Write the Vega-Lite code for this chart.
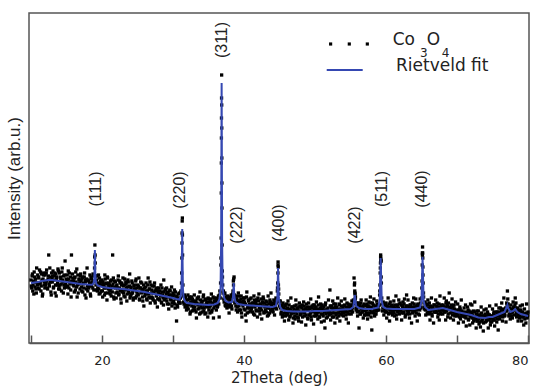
{
"$schema":"https://vega.github.io/schema/vega-lite/v6.json",
"width":500,"height":330,
"autosize":{"type":"none"},
"padding":{"left":29,"top":13,"right":10,"bottom":45},
"background":"white",
"config":{"view":{"stroke":"#555","strokeWidth":1.5}},
"datasets":{
"obs":[
{"t":10.0,"i":63},{"t":10.1,"i":55},{"t":10.2,"i":69},{"t":10.3,"i":58},{"t":10.4,"i":49},{"t":10.5,"i":66},{"t":10.6,"i":61},{"t":10.7,"i":54},{"t":10.8,"i":75},{"t":10.9,"i":58},
{"t":11.0,"i":55},{"t":11.1,"i":65},{"t":11.2,"i":73},{"t":11.3,"i":60},{"t":11.4,"i":52},{"t":11.5,"i":69},{"t":11.6,"i":47},{"t":11.7,"i":64},{"t":11.8,"i":70},{"t":11.9,"i":58},
{"t":12.0,"i":68},{"t":12.1,"i":60},{"t":12.2,"i":73},{"t":12.3,"i":55},{"t":12.4,"i":64},{"t":12.5,"i":88},{"t":12.6,"i":57},{"t":12.7,"i":66},{"t":12.8,"i":51},{"t":12.9,"i":70},
{"t":13.0,"i":61},{"t":13.1,"i":72},{"t":13.2,"i":56},{"t":13.3,"i":67},{"t":13.4,"i":50},{"t":13.5,"i":69},{"t":13.6,"i":64},{"t":13.7,"i":58},{"t":13.8,"i":74},{"t":13.9,"i":54},
{"t":14.0,"i":70},{"t":14.1,"i":58},{"t":14.2,"i":64},{"t":14.3,"i":52},{"t":14.4,"i":75},{"t":14.5,"i":61},{"t":14.6,"i":67},{"t":14.7,"i":55},{"t":14.8,"i":82},{"t":14.9,"i":59},
{"t":15.0,"i":56},{"t":15.1,"i":68},{"t":15.2,"i":49},{"t":15.3,"i":64},{"t":15.4,"i":70},{"t":15.5,"i":59},{"t":15.6,"i":53},{"t":15.7,"i":88},{"t":15.8,"i":60},{"t":15.9,"i":65},
{"t":16.0,"i":62},{"t":16.1,"i":51},{"t":16.2,"i":66},{"t":16.3,"i":71},{"t":16.4,"i":56},{"t":16.5,"i":46},{"t":16.6,"i":68},{"t":16.7,"i":59},{"t":16.8,"i":63},{"t":16.9,"i":54},
{"t":17.0,"i":69},{"t":17.1,"i":56},{"t":17.2,"i":64},{"t":17.3,"i":51},{"t":17.4,"i":60},{"t":17.5,"i":66},{"t":17.6,"i":48},{"t":17.7,"i":63},{"t":17.8,"i":54},{"t":17.9,"i":75},
{"t":18.0,"i":52},{"t":18.1,"i":62},{"t":18.2,"i":57},{"t":18.3,"i":68},{"t":18.4,"i":47},{"t":18.5,"i":64},{"t":18.6,"i":60},{"t":18.7,"i":55},{"t":18.8,"i":67},{"t":18.9,"i":62},
{"t":19.0,"i":98},{"t":19.1,"i":67},{"t":19.2,"i":53},{"t":19.3,"i":67},{"t":19.4,"i":55},{"t":19.5,"i":68},{"t":19.6,"i":49},{"t":19.7,"i":59},{"t":19.8,"i":62},{"t":19.9,"i":52},{"t":18.95,"i":75},{"t":19.05,"i":80},
{"t":20.0,"i":63},{"t":20.1,"i":46},{"t":20.2,"i":59},{"t":20.3,"i":55},{"t":20.4,"i":68},{"t":20.5,"i":50},{"t":20.6,"i":60},{"t":20.7,"i":43},{"t":20.8,"i":65},{"t":20.9,"i":54},
{"t":21.0,"i":60},{"t":21.1,"i":52},{"t":21.2,"i":62},{"t":21.3,"i":47},{"t":21.4,"i":57},{"t":21.5,"i":88},{"t":21.6,"i":65},{"t":21.7,"i":44},{"t":21.8,"i":56},{"t":21.9,"i":61},
{"t":22.0,"i":45},{"t":22.1,"i":58},{"t":22.2,"i":55},{"t":22.3,"i":67},{"t":22.4,"i":49},{"t":22.5,"i":62},{"t":22.6,"i":52},{"t":22.7,"i":40},{"t":22.8,"i":60},{"t":22.9,"i":51},
{"t":23.0,"i":57},{"t":23.1,"i":47},{"t":23.2,"i":64},{"t":23.3,"i":53},{"t":23.4,"i":59},{"t":23.5,"i":42},{"t":23.6,"i":56},{"t":23.7,"i":61},{"t":23.8,"i":50},{"t":23.9,"i":69},
{"t":24.0,"i":47},{"t":24.1,"i":55},{"t":24.2,"i":62},{"t":24.3,"i":50},{"t":24.4,"i":43},{"t":24.5,"i":57},{"t":24.6,"i":54},{"t":24.7,"i":45},{"t":24.8,"i":64},{"t":24.9,"i":51},
{"t":25.0,"i":58},{"t":25.1,"i":48},{"t":25.2,"i":65},{"t":25.3,"i":43},{"t":25.4,"i":55},{"t":25.5,"i":51},{"t":25.6,"i":60},{"t":25.7,"i":46},{"t":25.8,"i":54},{"t":25.9,"i":37},
{"t":26.0,"i":55},{"t":26.1,"i":49},{"t":26.2,"i":60},{"t":26.3,"i":44},{"t":26.4,"i":52},{"t":26.5,"i":65},{"t":26.6,"i":46},{"t":26.7,"i":54},{"t":26.8,"i":40},{"t":26.9,"i":58},
{"t":27.0,"i":46},{"t":27.1,"i":57},{"t":27.2,"i":43},{"t":27.3,"i":51},{"t":27.4,"i":60},{"t":27.5,"i":40},{"t":27.6,"i":54},{"t":27.7,"i":48},{"t":27.8,"i":36},{"t":27.9,"i":52},
{"t":28.0,"i":55},{"t":28.1,"i":43},{"t":28.2,"i":49},{"t":28.3,"i":58},{"t":28.4,"i":40},{"t":28.5,"i":51},{"t":28.6,"i":45},{"t":28.7,"i":63},{"t":28.8,"i":43},{"t":28.9,"i":53},
{"t":29.0,"i":45},{"t":29.1,"i":55},{"t":29.2,"i":39},{"t":29.3,"i":50},{"t":29.4,"i":34},{"t":29.5,"i":48},{"t":29.6,"i":52},{"t":29.7,"i":43},{"t":29.8,"i":56},{"t":29.9,"i":40},
{"t":30.0,"i":50},{"t":30.1,"i":41},{"t":30.2,"i":53},{"t":30.3,"i":35},{"t":30.4,"i":46},{"t":30.5,"i":22},{"t":30.6,"i":38},{"t":30.7,"i":45},{"t":30.8,"i":41},{"t":30.9,"i":50},
{"t":31.0,"i":40},{"t":31.1,"i":52},{"t":31.2,"i":60},{"t":31.3,"i":122},{"t":31.4,"i":58},{"t":31.5,"i":41},{"t":31.6,"i":48},{"t":31.7,"i":36},{"t":31.8,"i":46},{"t":31.9,"i":33},
{"t":31.22,"i":70},{"t":31.25,"i":85},{"t":31.28,"i":110},{"t":31.32,"i":125},{"t":31.35,"i":88},
{"t":32.0,"i":35},{"t":32.1,"i":48},{"t":32.2,"i":38},{"t":32.3,"i":44},{"t":32.4,"i":29},{"t":32.5,"i":41},{"t":32.6,"i":46},{"t":32.7,"i":32},{"t":32.8,"i":42},{"t":32.9,"i":36},
{"t":33.0,"i":48},{"t":33.1,"i":33},{"t":33.2,"i":41},{"t":33.3,"i":25},{"t":33.4,"i":44},{"t":33.5,"i":38},{"t":33.6,"i":46},{"t":33.7,"i":35},{"t":33.8,"i":51},{"t":33.9,"i":30},
{"t":34.0,"i":39},{"t":34.1,"i":31},{"t":34.2,"i":42},{"t":34.3,"i":48},{"t":34.4,"i":35},{"t":34.5,"i":29},{"t":34.6,"i":44},{"t":34.7,"i":37},{"t":34.8,"i":41},{"t":34.9,"i":26},
{"t":35.0,"i":44},{"t":35.1,"i":36},{"t":35.2,"i":30},{"t":35.3,"i":41},{"t":35.4,"i":49},{"t":35.5,"i":33},{"t":35.6,"i":40},{"t":35.7,"i":25},{"t":35.8,"i":45},{"t":35.9,"i":37},
{"t":36.0,"i":42},{"t":36.1,"i":33},{"t":36.2,"i":44},{"t":36.3,"i":37},{"t":36.4,"i":47},{"t":36.5,"i":26},{"t":36.6,"i":52},{"t":36.7,"i":60},{"t":36.8,"i":150},{"t":36.9,"i":135},
{"t":36.75,"i":78},{"t":36.78,"i":105},{"t":36.82,"i":205},{"t":36.83,"i":225},{"t":36.84,"i":245},{"t":36.85,"i":268},{"t":36.86,"i":238},{"t":36.87,"i":215},{"t":36.88,"i":185},{"t":36.92,"i":98},{"t":36.95,"i":72},
{"t":37.0,"i":58},{"t":37.1,"i":52},{"t":37.2,"i":41},{"t":37.3,"i":50},{"t":37.4,"i":37},{"t":37.5,"i":46},{"t":37.6,"i":35},{"t":37.7,"i":47},{"t":37.8,"i":38},{"t":37.9,"i":30},
{"t":38.0,"i":44},{"t":38.1,"i":36},{"t":38.2,"i":48},{"t":38.3,"i":34},{"t":38.4,"i":49},{"t":38.5,"i":62},{"t":38.6,"i":66},{"t":38.7,"i":40},{"t":38.8,"i":47},{"t":38.9,"i":33},{"t":38.55,"i":64},
{"t":39.0,"i":44},{"t":39.1,"i":31},{"t":39.2,"i":50},{"t":39.3,"i":37},{"t":39.4,"i":42},{"t":39.5,"i":33},{"t":39.6,"i":47},{"t":39.7,"i":26},{"t":39.8,"i":39},{"t":39.9,"i":42},
{"t":40.0,"i":34},{"t":40.1,"i":45},{"t":40.2,"i":28},{"t":40.3,"i":22},{"t":40.4,"i":51},{"t":40.5,"i":35},{"t":40.6,"i":43},{"t":40.7,"i":31},{"t":40.8,"i":39},{"t":40.9,"i":38},
{"t":41.0,"i":45},{"t":41.1,"i":36},{"t":41.2,"i":31},{"t":41.3,"i":40},{"t":41.4,"i":47},{"t":41.5,"i":28},{"t":41.6,"i":39},{"t":41.7,"i":33},{"t":41.8,"i":43},{"t":41.9,"i":26},
{"t":42.0,"i":38},{"t":42.1,"i":49},{"t":42.2,"i":32},{"t":42.3,"i":35},{"t":42.4,"i":44},{"t":42.5,"i":24},{"t":42.6,"i":41},{"t":42.7,"i":46},{"t":42.8,"i":30},{"t":42.9,"i":40},
{"t":43.0,"i":33},{"t":43.1,"i":42},{"t":43.2,"i":38},{"t":43.3,"i":27},{"t":43.4,"i":47},{"t":43.5,"i":35},{"t":43.6,"i":30},{"t":43.7,"i":41},{"t":43.8,"i":50},{"t":43.9,"i":32},
{"t":44.0,"i":40},{"t":44.1,"i":31},{"t":44.2,"i":43},{"t":44.3,"i":28},{"t":44.4,"i":38},{"t":44.5,"i":45},{"t":44.6,"i":34},{"t":44.7,"i":52},{"t":44.8,"i":81},{"t":44.9,"i":49},
{"t":44.75,"i":60},{"t":44.78,"i":70},{"t":44.82,"i":76},{"t":44.85,"i":58},{"t":44.95,"i":42},
{"t":45.0,"i":37},{"t":45.1,"i":42},{"t":45.2,"i":29},{"t":45.3,"i":38},{"t":45.4,"i":26},{"t":45.5,"i":40},{"t":45.6,"i":34},{"t":45.7,"i":22},{"t":45.8,"i":37},{"t":45.9,"i":30},
{"t":46.0,"i":39},{"t":46.1,"i":29},{"t":46.2,"i":42},{"t":46.3,"i":23},{"t":46.4,"i":34},{"t":46.5,"i":27},{"t":46.6,"i":45},{"t":46.7,"i":31},{"t":46.8,"i":36},{"t":46.9,"i":20},
{"t":47.0,"i":30},{"t":47.1,"i":37},{"t":47.2,"i":24},{"t":47.3,"i":43},{"t":47.4,"i":33},{"t":47.5,"i":26},{"t":47.6,"i":35},{"t":47.7,"i":22},{"t":47.8,"i":40},{"t":47.9,"i":28},
{"t":48.0,"i":36},{"t":48.1,"i":21},{"t":48.2,"i":38},{"t":48.3,"i":31},{"t":48.4,"i":41},{"t":48.5,"i":27},{"t":48.6,"i":34},{"t":48.7,"i":18},{"t":48.8,"i":39},{"t":48.9,"i":33},
{"t":49.0,"i":24},{"t":49.1,"i":40},{"t":49.2,"i":34},{"t":49.3,"i":28},{"t":49.4,"i":44},{"t":49.5,"i":23},{"t":49.6,"i":37},{"t":49.7,"i":31},{"t":49.8,"i":19},{"t":49.9,"i":38},
{"t":50.0,"i":35},{"t":50.1,"i":27},{"t":50.2,"i":41},{"t":50.3,"i":30},{"t":50.4,"i":24},{"t":50.5,"i":46},{"t":50.6,"i":26},{"t":50.7,"i":33},{"t":50.8,"i":39},{"t":50.9,"i":21},
{"t":51.0,"i":38},{"t":51.1,"i":29},{"t":51.2,"i":33},{"t":51.3,"i":22},{"t":51.4,"i":15},{"t":51.5,"i":40},{"t":51.6,"i":25},{"t":51.7,"i":34},{"t":51.8,"i":31},{"t":51.9,"i":43},
{"t":52.0,"i":28},{"t":52.1,"i":53},{"t":52.2,"i":23},{"t":52.3,"i":37},{"t":52.4,"i":30},{"t":52.5,"i":42},{"t":52.6,"i":26},{"t":52.7,"i":35},{"t":52.8,"i":20},{"t":52.9,"i":39},
{"t":53.0,"i":35},{"t":53.1,"i":25},{"t":53.2,"i":45},{"t":53.3,"i":30},{"t":53.4,"i":39},{"t":53.5,"i":22},{"t":53.6,"i":34},{"t":53.7,"i":42},{"t":53.8,"i":28},{"t":53.9,"i":32},
{"t":54.0,"i":27},{"t":54.1,"i":37},{"t":54.2,"i":44},{"t":54.3,"i":31},{"t":54.4,"i":24},{"t":54.5,"i":40},{"t":54.6,"i":34},{"t":54.7,"i":20},{"t":54.8,"i":38},{"t":54.9,"i":36},
{"t":55.0,"i":38},{"t":55.1,"i":29},{"t":55.2,"i":42},{"t":55.3,"i":31},{"t":55.4,"i":43},{"t":55.5,"i":65},{"t":55.6,"i":52},{"t":55.7,"i":46},{"t":55.8,"i":33},{"t":55.9,"i":40},
{"t":55.55,"i":58},{"t":55.58,"i":60},{"t":55.65,"i":49},
{"t":56.0,"i":27},{"t":56.1,"i":40},{"t":56.2,"i":15},{"t":56.3,"i":38},{"t":56.4,"i":29},{"t":56.5,"i":43},{"t":56.6,"i":31},{"t":56.7,"i":36},{"t":56.8,"i":25},{"t":56.9,"i":39},
{"t":57.0,"i":38},{"t":57.1,"i":28},{"t":57.2,"i":43},{"t":57.3,"i":33},{"t":57.4,"i":24},{"t":57.5,"i":37},{"t":57.6,"i":41},{"t":57.7,"i":30},{"t":57.8,"i":46},{"t":57.9,"i":26},
{"t":58.0,"i":13},{"t":58.1,"i":40},{"t":58.2,"i":31},{"t":58.3,"i":44},{"t":58.4,"i":27},{"t":58.5,"i":36},{"t":58.6,"i":29},{"t":58.7,"i":42},{"t":58.8,"i":33},{"t":58.9,"i":38},
{"t":59.0,"i":33},{"t":59.1,"i":48},{"t":59.2,"i":75},{"t":59.3,"i":82},{"t":59.4,"i":45},{"t":59.5,"i":32},{"t":59.6,"i":41},{"t":59.7,"i":28},{"t":59.8,"i":39},{"t":59.9,"i":31},
{"t":59.15,"i":58},{"t":59.22,"i":80},{"t":59.25,"i":88},{"t":59.28,"i":84},{"t":59.35,"i":60},
{"t":60.0,"i":40},{"t":60.1,"i":25},{"t":60.2,"i":36},{"t":60.3,"i":45},{"t":60.4,"i":30},{"t":60.5,"i":22},{"t":60.6,"i":41},{"t":60.7,"i":33},{"t":60.8,"i":37},{"t":60.9,"i":28},
{"t":61.0,"i":31},{"t":61.1,"i":42},{"t":61.2,"i":27},{"t":61.3,"i":35},{"t":61.4,"i":47},{"t":61.5,"i":24},{"t":61.6,"i":38},{"t":61.7,"i":32},{"t":61.8,"i":43},{"t":61.9,"i":29},
{"t":62.0,"i":40},{"t":62.1,"i":33},{"t":62.2,"i":23},{"t":62.3,"i":37},{"t":62.4,"i":41},{"t":62.5,"i":30},{"t":62.6,"i":44},{"t":62.7,"i":26},{"t":62.8,"i":36},{"t":62.9,"i":48},
{"t":63.0,"i":29},{"t":63.1,"i":43},{"t":63.2,"i":32},{"t":63.3,"i":25},{"t":63.4,"i":38},{"t":63.5,"i":35},{"t":63.6,"i":20},{"t":63.7,"i":40},{"t":63.8,"i":31},{"t":63.9,"i":45},
{"t":64.0,"i":36},{"t":64.1,"i":27},{"t":64.2,"i":44},{"t":64.3,"i":33},{"t":64.4,"i":22},{"t":64.5,"i":39},{"t":64.6,"i":37},{"t":64.7,"i":28},{"t":64.8,"i":44},{"t":64.9,"i":35},
{"t":65.0,"i":45},{"t":65.1,"i":78},{"t":65.2,"i":76},{"t":65.3,"i":46},{"t":65.4,"i":34},{"t":65.5,"i":41},{"t":65.6,"i":28},{"t":65.7,"i":39},{"t":65.8,"i":30},{"t":65.9,"i":43},
{"t":65.08,"i":62},{"t":65.12,"i":90},{"t":65.15,"i":96},{"t":65.18,"i":85},{"t":65.23,"i":60},
{"t":66.0,"i":29},{"t":66.1,"i":40},{"t":66.2,"i":23},{"t":66.3,"i":36},{"t":66.4,"i":45},{"t":66.5,"i":27},{"t":66.6,"i":34},{"t":66.7,"i":20},{"t":66.8,"i":38},{"t":66.9,"i":31},
{"t":67.0,"i":43},{"t":67.1,"i":31},{"t":67.2,"i":40},{"t":67.3,"i":26},{"t":67.4,"i":36},{"t":67.5,"i":23},{"t":67.6,"i":47},{"t":67.7,"i":29},{"t":67.8,"i":38},{"t":67.9,"i":33},
{"t":68.0,"i":29},{"t":68.1,"i":36},{"t":68.2,"i":45},{"t":68.3,"i":31},{"t":68.4,"i":23},{"t":68.5,"i":42},{"t":68.6,"i":38},{"t":68.7,"i":26},{"t":68.8,"i":40},{"t":68.9,"i":50},
{"t":69.0,"i":36},{"t":69.1,"i":25},{"t":69.2,"i":38},{"t":69.3,"i":44},{"t":69.4,"i":31},{"t":69.5,"i":23},{"t":69.6,"i":38},{"t":69.7,"i":27},{"t":69.8,"i":41},{"t":69.9,"i":31},
{"t":70.0,"i":27},{"t":70.1,"i":39},{"t":70.2,"i":20},{"t":70.3,"i":33},{"t":70.4,"i":36},{"t":70.5,"i":24},{"t":70.6,"i":43},{"t":70.7,"i":27},{"t":70.8,"i":31},{"t":70.9,"i":21},
{"t":71.0,"i":35},{"t":71.1,"i":26},{"t":71.2,"i":38},{"t":71.3,"i":17},{"t":71.4,"i":30},{"t":71.5,"i":36},{"t":71.6,"i":23},{"t":71.7,"i":32},{"t":71.8,"i":18},{"t":71.9,"i":39},
{"t":72.0,"i":26},{"t":72.1,"i":38},{"t":72.2,"i":20},{"t":72.3,"i":32},{"t":72.4,"i":22},{"t":72.5,"i":41},{"t":72.6,"i":26},{"t":72.7,"i":15},{"t":72.8,"i":32},{"t":72.9,"i":22},
{"t":73.0,"i":32},{"t":73.1,"i":19},{"t":73.2,"i":28},{"t":73.3,"i":16},{"t":73.4,"i":36},{"t":73.5,"i":22},{"t":73.6,"i":27},{"t":73.7,"i":12},{"t":73.8,"i":33},{"t":73.9,"i":26},
{"t":74.0,"i":21},{"t":74.1,"i":34},{"t":74.2,"i":24},{"t":74.3,"i":31},{"t":74.4,"i":15},{"t":74.5,"i":28},{"t":74.6,"i":37},{"t":74.7,"i":18},{"t":74.8,"i":27},{"t":74.9,"i":21},
{"t":75.0,"i":34},{"t":75.1,"i":23},{"t":75.2,"i":31},{"t":75.3,"i":17},{"t":75.4,"i":27},{"t":75.5,"i":38},{"t":75.6,"i":21},{"t":75.7,"i":31},{"t":75.8,"i":13},{"t":75.9,"i":35},
{"t":76.0,"i":24},{"t":76.1,"i":35},{"t":76.2,"i":27},{"t":76.3,"i":40},{"t":76.4,"i":22},{"t":76.5,"i":33},{"t":76.6,"i":45},{"t":76.7,"i":27},{"t":76.8,"i":32},{"t":76.9,"i":21},
{"t":77.0,"i":40},{"t":77.1,"i":52},{"t":77.2,"i":39},{"t":77.3,"i":27},{"t":77.4,"i":35},{"t":77.5,"i":24},{"t":77.6,"i":38},{"t":77.7,"i":30},{"t":77.8,"i":25},{"t":77.9,"i":41},
{"t":78.0,"i":36},{"t":78.1,"i":28},{"t":78.2,"i":45},{"t":78.3,"i":40},{"t":78.4,"i":26},{"t":78.5,"i":35},{"t":78.6,"i":22},{"t":78.7,"i":33},{"t":78.8,"i":25},{"t":78.9,"i":37},
{"t":79.0,"i":33},{"t":79.1,"i":22},{"t":79.2,"i":38},{"t":79.3,"i":26},{"t":79.4,"i":18},{"t":79.5,"i":34},{"t":79.6,"i":29},{"t":79.7,"i":20},{"t":79.8,"i":39},{"t":79.9,"i":26},
{"t":80.0,"i":31},
{"t":10.05,"i":57},{"t":10.15,"i":67},{"t":10.25,"i":52},{"t":10.35,"i":62},{"t":10.45,"i":71},{"t":10.55,"i":56},{"t":10.65,"i":64},{"t":10.75,"i":50},{"t":10.85,"i":60},{"t":10.95,"i":68},
{"t":11.05,"i":66},{"t":11.15,"i":54},{"t":11.25,"i":59},{"t":11.35,"i":71},{"t":11.45,"i":57},{"t":11.55,"i":63},{"t":11.65,"i":49},{"t":11.75,"i":68},{"t":11.85,"i":61},{"t":11.95,"i":55},
{"t":12.05,"i":58},{"t":12.15,"i":70},{"t":12.25,"i":62},{"t":12.35,"i":54},{"t":12.45,"i":67},{"t":12.55,"i":59},{"t":12.65,"i":75},{"t":12.75,"i":61},{"t":12.85,"i":48},{"t":12.95,"i":65},
{"t":13.05,"i":67},{"t":13.15,"i":55},{"t":13.25,"i":63},{"t":13.35,"i":70},{"t":13.45,"i":58},{"t":13.55,"i":47},{"t":13.65,"i":66},{"t":13.75,"i":60},{"t":13.85,"i":72},{"t":13.95,"i":57},
{"t":14.05,"i":54},{"t":14.15,"i":66},{"t":14.25,"i":59},{"t":14.35,"i":71},{"t":14.45,"i":63},{"t":14.55,"i":50},{"t":14.65,"i":58},{"t":14.75,"i":68},{"t":14.85,"i":56},{"t":14.95,"i":64},
{"t":15.05,"i":63},{"t":15.15,"i":57},{"t":15.25,"i":72},{"t":15.35,"i":55},{"t":15.45,"i":61},{"t":15.55,"i":66},{"t":15.65,"i":46},{"t":15.75,"i":62},{"t":15.85,"i":69},{"t":15.95,"i":58},
{"t":16.05,"i":57},{"t":16.15,"i":65},{"t":16.25,"i":53},{"t":16.35,"i":61},{"t":16.45,"i":74},{"t":16.55,"i":58},{"t":16.65,"i":50},{"t":16.75,"i":64},{"t":16.85,"i":60},{"t":16.95,"i":67},
{"t":17.05,"i":62},{"t":17.15,"i":52},{"t":17.25,"i":66},{"t":17.35,"i":59},{"t":17.45,"i":55},{"t":17.55,"i":70},{"t":17.65,"i":61},{"t":17.75,"i":45},{"t":17.85,"i":64},{"t":17.95,"i":57},
{"t":18.05,"i":63},{"t":18.15,"i":55},{"t":18.25,"i":60},{"t":18.35,"i":49},{"t":18.45,"i":66},{"t":18.55,"i":57},{"t":18.65,"i":61},{"t":18.75,"i":69},{"t":18.85,"i":53},{"t":18.97,"i":86},
{"t":19.03,"i":88},{"t":19.15,"i":58},{"t":19.25,"i":63},{"t":19.35,"i":52},{"t":19.45,"i":60},{"t":19.55,"i":54},{"t":19.65,"i":65},{"t":19.75,"i":50},{"t":19.85,"i":58},{"t":19.95,"i":61},
{"t":20.05,"i":52},{"t":20.15,"i":61},{"t":20.25,"i":57},{"t":20.35,"i":48},{"t":20.45,"i":64},{"t":20.55,"i":55},{"t":20.65,"i":59},{"t":20.75,"i":66},{"t":20.85,"i":50},{"t":20.95,"i":57},
{"t":21.05,"i":58},{"t":21.15,"i":49},{"t":21.25,"i":54},{"t":21.35,"i":63},{"t":21.45,"i":51},{"t":21.55,"i":59},{"t":21.65,"i":46},{"t":21.75,"i":62},{"t":21.85,"i":55},{"t":21.95,"i":50},
{"t":22.05,"i":57},{"t":22.15,"i":51},{"t":22.25,"i":63},{"t":22.35,"i":48},{"t":22.45,"i":55},{"t":22.55,"i":60},{"t":22.65,"i":44},{"t":22.75,"i":58},{"t":22.85,"i":53},{"t":22.95,"i":65},
{"t":23.05,"i":50},{"t":23.15,"i":58},{"t":23.25,"i":46},{"t":23.35,"i":61},{"t":23.45,"i":55},{"t":23.55,"i":49},{"t":23.65,"i":63},{"t":23.75,"i":52},{"t":23.85,"i":57},{"t":23.95,"i":45},
{"t":24.05,"i":56},{"t":24.15,"i":49},{"t":24.25,"i":60},{"t":24.35,"i":52},{"t":24.45,"i":45},{"t":24.55,"i":58},{"t":24.65,"i":54},{"t":24.75,"i":62},{"t":24.85,"i":47},{"t":24.95,"i":55},
{"t":25.05,"i":49},{"t":25.15,"i":57},{"t":25.25,"i":44},{"t":25.35,"i":55},{"t":25.45,"i":61},{"t":25.55,"i":50},{"t":25.65,"i":53},{"t":25.75,"i":42},{"t":25.85,"i":58},{"t":25.95,"i":51},
{"t":26.05,"i":47},{"t":26.15,"i":56},{"t":26.25,"i":52},{"t":26.35,"i":43},{"t":26.45,"i":58},{"t":26.55,"i":49},{"t":26.65,"i":54},{"t":26.75,"i":61},{"t":26.85,"i":45},{"t":26.95,"i":50},
{"t":27.05,"i":53},{"t":27.15,"i":45},{"t":27.25,"i":50},{"t":27.35,"i":57},{"t":27.45,"i":42},{"t":27.55,"i":52},{"t":27.65,"i":47},{"t":27.75,"i":55},{"t":27.85,"i":44},{"t":27.95,"i":50},
{"t":28.05,"i":44},{"t":28.15,"i":52},{"t":28.25,"i":47},{"t":28.35,"i":41},{"t":28.45,"i":55},{"t":28.55,"i":48},{"t":28.65,"i":38},{"t":28.75,"i":51},{"t":28.85,"i":46},{"t":28.95,"i":54},
{"t":29.05,"i":49},{"t":29.15,"i":42},{"t":29.25,"i":51},{"t":29.35,"i":46},{"t":29.45,"i":39},{"t":29.55,"i":53},{"t":29.65,"i":44},{"t":29.75,"i":48},{"t":29.85,"i":37},{"t":29.95,"i":47},
{"t":30.05,"i":42},{"t":30.15,"i":48},{"t":30.25,"i":39},{"t":30.35,"i":51},{"t":30.45,"i":44},{"t":30.55,"i":47},{"t":30.65,"i":36},{"t":30.75,"i":49},{"t":30.85,"i":43},{"t":30.95,"i":40},
{"t":31.05,"i":45},{"t":31.15,"i":50},{"t":31.27,"i":100},{"t":31.33,"i":108},{"t":31.45,"i":47},{"t":31.55,"i":39},{"t":31.65,"i":45},{"t":31.75,"i":38},{"t":31.85,"i":43},{"t":31.95,"i":37},
{"t":32.05,"i":43},{"t":32.15,"i":34},{"t":32.25,"i":39},{"t":32.35,"i":46},{"t":32.45,"i":31},{"t":32.55,"i":40},{"t":32.65,"i":37},{"t":32.75,"i":44},{"t":32.85,"i":33},{"t":32.95,"i":41},
{"t":33.05,"i":36},{"t":33.15,"i":42},{"t":33.25,"i":31},{"t":33.35,"i":40},{"t":33.45,"i":45},{"t":33.55,"i":34},{"t":33.65,"i":39},{"t":33.75,"i":29},{"t":33.85,"i":43},{"t":33.95,"i":37},
{"t":34.05,"i":41},{"t":34.15,"i":35},{"t":34.25,"i":46},{"t":34.35,"i":32},{"t":34.45,"i":38},{"t":34.55,"i":43},{"t":34.65,"i":30},{"t":34.75,"i":40},{"t":34.85,"i":36},{"t":34.95,"i":45},
{"t":35.05,"i":33},{"t":35.15,"i":41},{"t":35.25,"i":37},{"t":35.35,"i":44},{"t":35.45,"i":31},{"t":35.55,"i":39},{"t":35.65,"i":46},{"t":35.75,"i":35},{"t":35.85,"i":42},{"t":35.95,"i":38},
{"t":36.05,"i":40},{"t":36.15,"i":45},{"t":36.25,"i":36},{"t":36.35,"i":43},{"t":36.45,"i":39},{"t":36.55,"i":48},{"t":36.65,"i":45},{"t":36.76,"i":85},{"t":36.81,"i":180},{"t":36.89,"i":160},{"t":36.97,"i":66},
{"t":37.05,"i":50},{"t":37.15,"i":44},{"t":37.25,"i":49},{"t":37.35,"i":38},{"t":37.45,"i":45},{"t":37.55,"i":40},{"t":37.65,"i":36},{"t":37.75,"i":44},{"t":37.85,"i":41},{"t":37.95,"i":46},
{"t":38.05,"i":39},{"t":38.15,"i":43},{"t":38.25,"i":37},{"t":38.35,"i":46},{"t":38.45,"i":52},{"t":38.52,"i":58},{"t":38.65,"i":48},{"t":38.75,"i":42},{"t":38.85,"i":37},{"t":38.95,"i":44},
{"t":39.05,"i":36},{"t":39.15,"i":42},{"t":39.25,"i":47},{"t":39.35,"i":33},{"t":39.45,"i":40},{"t":39.55,"i":44},{"t":39.65,"i":30},{"t":39.75,"i":41},{"t":39.85,"i":37},{"t":39.95,"i":45},
{"t":40.05,"i":41},{"t":40.15,"i":33},{"t":40.25,"i":39},{"t":40.35,"i":46},{"t":40.45,"i":30},{"t":40.55,"i":37},{"t":40.65,"i":42},{"t":40.75,"i":35},{"t":40.85,"i":44},{"t":40.95,"i":32},
{"t":41.05,"i":34},{"t":41.15,"i":40},{"t":41.25,"i":37},{"t":41.35,"i":29},{"t":41.45,"i":43},{"t":41.55,"i":36},{"t":41.65,"i":41},{"t":41.75,"i":32},{"t":41.85,"i":38},{"t":41.95,"i":45},
{"t":42.05,"i":42},{"t":42.15,"i":35},{"t":42.25,"i":29},{"t":42.35,"i":39},{"t":42.45,"i":33},{"t":42.55,"i":40},{"t":42.65,"i":37},{"t":42.75,"i":44},{"t":42.85,"i":31},{"t":42.95,"i":36},
{"t":43.05,"i":37},{"t":43.15,"i":31},{"t":43.25,"i":41},{"t":43.35,"i":35},{"t":43.45,"i":28},{"t":43.55,"i":39},{"t":43.65,"i":43},{"t":43.75,"i":33},{"t":43.85,"i":38},{"t":43.95,"i":34},
{"t":44.05,"i":33},{"t":44.15,"i":39},{"t":44.25,"i":35},{"t":44.35,"i":41},{"t":44.45,"i":36},{"t":44.55,"i":40},{"t":44.65,"i":43},{"t":44.72,"i":55},{"t":44.8,"i":78},{"t":44.88,"i":54},
{"t":45.05,"i":41},{"t":45.15,"i":35},{"t":45.25,"i":31},{"t":45.35,"i":37},{"t":45.45,"i":28},{"t":45.55,"i":35},{"t":45.65,"i":30},{"t":45.75,"i":38},{"t":45.85,"i":27},{"t":45.95,"i":34},
{"t":46.05,"i":28},{"t":46.15,"i":35},{"t":46.25,"i":31},{"t":46.35,"i":38},{"t":46.45,"i":26},{"t":46.55,"i":33},{"t":46.65,"i":29},{"t":46.75,"i":36},{"t":46.85,"i":32},{"t":46.95,"i":25},
{"t":47.05,"i":34},{"t":47.15,"i":27},{"t":47.25,"i":31},{"t":47.35,"i":38},{"t":47.45,"i":29},{"t":47.55,"i":35},{"t":47.65,"i":25},{"t":47.75,"i":32},{"t":47.85,"i":37},{"t":47.95,"i":30},
{"t":48.05,"i":29},{"t":48.15,"i":35},{"t":48.25,"i":26},{"t":48.35,"i":33},{"t":48.45,"i":37},{"t":48.55,"i":30},{"t":48.65,"i":34},{"t":48.75,"i":28},{"t":48.85,"i":36},{"t":48.95,"i":25},
{"t":49.05,"i":33},{"t":49.15,"i":28},{"t":49.25,"i":36},{"t":49.35,"i":30},{"t":49.45,"i":26},{"t":49.55,"i":35},{"t":49.65,"i":32},{"t":49.75,"i":38},{"t":49.85,"i":27},{"t":49.95,"i":34},
{"t":50.05,"i":30},{"t":50.15,"i":36},{"t":50.25,"i":28},{"t":50.35,"i":34},{"t":50.45,"i":38},{"t":50.55,"i":31},{"t":50.65,"i":26},{"t":50.75,"i":35},{"t":50.85,"i":29},{"t":50.95,"i":37},
{"t":51.05,"i":34},{"t":51.15,"i":27},{"t":51.25,"i":36},{"t":51.35,"i":31},{"t":51.45,"i":38},{"t":51.55,"i":29},{"t":51.65,"i":33},{"t":51.75,"i":26},{"t":51.85,"i":35},{"t":51.95,"i":30},
{"t":52.05,"i":31},{"t":52.15,"i":37},{"t":52.25,"i":29},{"t":52.35,"i":35},{"t":52.45,"i":26},{"t":52.55,"i":33},{"t":52.65,"i":39},{"t":52.75,"i":30},{"t":52.85,"i":36},{"t":52.95,"i":28},
{"t":53.05,"i":36},{"t":53.15,"i":30},{"t":53.25,"i":34},{"t":53.35,"i":27},{"t":53.45,"i":38},{"t":53.55,"i":32},{"t":53.65,"i":29},{"t":53.75,"i":37},{"t":53.85,"i":31},{"t":53.95,"i":35},
{"t":54.05,"i":30},{"t":54.15,"i":38},{"t":54.25,"i":33},{"t":54.35,"i":28},{"t":54.45,"i":36},{"t":54.55,"i":31},{"t":54.65,"i":39},{"t":54.75,"i":29},{"t":54.85,"i":35},{"t":54.95,"i":32},
{"t":55.05,"i":36},{"t":55.15,"i":33},{"t":55.25,"i":38},{"t":55.35,"i":35},{"t":55.45,"i":40},{"t":55.62,"i":50},{"t":55.68,"i":44},{"t":55.75,"i":39},{"t":55.85,"i":35},{"t":55.95,"i":31},
{"t":56.05,"i":38},{"t":56.15,"i":32},{"t":56.25,"i":36},{"t":56.35,"i":29},{"t":56.45,"i":40},{"t":56.55,"i":34},{"t":56.65,"i":31},{"t":56.75,"i":37},{"t":56.85,"i":33},{"t":56.95,"i":28},
{"t":57.05,"i":32},{"t":57.15,"i":37},{"t":57.25,"i":30},{"t":57.35,"i":39},{"t":57.45,"i":35},{"t":57.55,"i":28},{"t":57.65,"i":36},{"t":57.75,"i":33},{"t":57.85,"i":40},{"t":57.95,"i":31},
{"t":58.05,"i":36},{"t":58.15,"i":30},{"t":58.25,"i":38},{"t":58.35,"i":33},{"t":58.45,"i":29},{"t":58.55,"i":37},{"t":58.65,"i":32},{"t":58.75,"i":39},{"t":58.85,"i":34},{"t":58.95,"i":37},
{"t":59.05,"i":38},{"t":59.12,"i":52},{"t":59.18,"i":70},{"t":59.24,"i":86},{"t":59.27,"i":82},{"t":59.32,"i":66},{"t":59.45,"i":39},{"t":59.55,"i":35},{"t":59.75,"i":36},{"t":59.85,"i":33},{"t":59.95,"i":38},
{"t":60.05,"i":31},{"t":60.15,"i":37},{"t":60.25,"i":34},{"t":60.35,"i":29},{"t":60.45,"i":39},{"t":60.55,"i":33},{"t":60.65,"i":36},{"t":60.75,"i":30},{"t":60.85,"i":38},{"t":60.95,"i":32},
{"t":61.05,"i":36},{"t":61.15,"i":30},{"t":61.25,"i":38},{"t":61.35,"i":33},{"t":61.45,"i":28},{"t":61.55,"i":37},{"t":61.65,"i":31},{"t":61.75,"i":35},{"t":61.85,"i":39},{"t":61.95,"i":32},
{"t":62.05,"i":33},{"t":62.15,"i":38},{"t":62.25,"i":30},{"t":62.35,"i":35},{"t":62.45,"i":31},{"t":62.55,"i":39},{"t":62.65,"i":34},{"t":62.75,"i":28},{"t":62.85,"i":37},{"t":62.95,"i":32},
{"t":63.05,"i":37},{"t":63.15,"i":31},{"t":63.25,"i":35},{"t":63.35,"i":29},{"t":63.45,"i":38},{"t":63.55,"i":33},{"t":63.65,"i":36},{"t":63.75,"i":30},{"t":63.85,"i":34},{"t":63.95,"i":39},
{"t":64.05,"i":32},{"t":64.15,"i":36},{"t":64.25,"i":30},{"t":64.35,"i":38},{"t":64.45,"i":34},{"t":64.55,"i":29},{"t":64.65,"i":37},{"t":64.75,"i":33},{"t":64.85,"i":40},{"t":64.95,"i":36},
{"t":65.05,"i":55},{"t":65.13,"i":88},{"t":65.17,"i":90},{"t":65.21,"i":68},{"t":65.28,"i":50},{"t":65.35,"i":40},{"t":65.45,"i":36},{"t":65.55,"i":33},{"t":65.75,"i":35},{"t":65.85,"i":38},{"t":65.95,"i":31},
{"t":66.05,"i":35},{"t":66.15,"i":30},{"t":66.25,"i":37},{"t":66.35,"i":32},{"t":66.45,"i":29},{"t":66.55,"i":36},{"t":66.65,"i":33},{"t":66.75,"i":38},{"t":66.85,"i":31},{"t":66.95,"i":34},
{"t":67.05,"i":31},{"t":67.15,"i":37},{"t":67.25,"i":34},{"t":67.35,"i":29},{"t":67.45,"i":39},{"t":67.55,"i":32},{"t":67.65,"i":35},{"t":67.75,"i":30},{"t":67.85,"i":37},{"t":67.95,"i":33},
{"t":68.05,"i":38},{"t":68.15,"i":33},{"t":68.25,"i":31},{"t":68.35,"i":36},{"t":68.45,"i":40},{"t":68.55,"i":32},{"t":68.65,"i":37},{"t":68.75,"i":29},{"t":68.85,"i":35},{"t":68.95,"i":34},
{"t":69.05,"i":30},{"t":69.15,"i":35},{"t":69.25,"i":33},{"t":69.35,"i":28},{"t":69.45,"i":36},{"t":69.55,"i":31},{"t":69.65,"i":34},{"t":69.75,"i":29},{"t":69.85,"i":32},{"t":69.95,"i":30},
{"t":70.05,"i":33},{"t":70.15,"i":28},{"t":70.25,"i":31},{"t":70.35,"i":26},{"t":70.45,"i":34},{"t":70.55,"i":29},{"t":70.65,"i":32},{"t":70.75,"i":27},{"t":70.85,"i":30},{"t":70.95,"i":28},
{"t":71.05,"i":27},{"t":71.15,"i":31},{"t":71.25,"i":25},{"t":71.35,"i":30},{"t":71.45,"i":28},{"t":71.55,"i":33},{"t":71.65,"i":24},{"t":71.75,"i":29},{"t":71.85,"i":27},{"t":71.95,"i":31},
{"t":72.05,"i":30},{"t":72.15,"i":25},{"t":72.25,"i":28},{"t":72.35,"i":23},{"t":72.45,"i":31},{"t":72.55,"i":26},{"t":72.65,"i":24},{"t":72.75,"i":29},{"t":72.85,"i":22},{"t":72.95,"i":27},
{"t":73.05,"i":24},{"t":73.15,"i":28},{"t":73.25,"i":21},{"t":73.35,"i":26},{"t":73.45,"i":30},{"t":73.55,"i":23},{"t":73.65,"i":27},{"t":73.75,"i":20},{"t":73.85,"i":25},{"t":73.95,"i":29},
{"t":74.05,"i":27},{"t":74.15,"i":22},{"t":74.25,"i":26},{"t":74.35,"i":29},{"t":74.45,"i":23},{"t":74.55,"i":28},{"t":74.65,"i":24},{"t":74.75,"i":21},{"t":74.85,"i":27},{"t":74.95,"i":25},
{"t":75.05,"i":25},{"t":75.15,"i":29},{"t":75.25,"i":23},{"t":75.35,"i":28},{"t":75.45,"i":26},{"t":75.55,"i":31},{"t":75.65,"i":24},{"t":75.75,"i":29},{"t":75.85,"i":27},{"t":75.95,"i":30},
{"t":76.05,"i":31},{"t":76.15,"i":27},{"t":76.25,"i":33},{"t":76.35,"i":29},{"t":76.45,"i":26},{"t":76.55,"i":34},{"t":76.65,"i":30},{"t":76.75,"i":28},{"t":76.85,"i":35},{"t":76.95,"i":32},
{"t":77.05,"i":38},{"t":77.15,"i":44},{"t":77.25,"i":33},{"t":77.35,"i":29},{"t":77.45,"i":34},{"t":77.55,"i":30},{"t":77.65,"i":27},{"t":77.75,"i":34},{"t":77.85,"i":31},{"t":77.95,"i":35},
{"t":78.05,"i":33},{"t":78.15,"i":38},{"t":78.25,"i":35},{"t":78.35,"i":30},{"t":78.45,"i":34},{"t":78.55,"i":28},{"t":78.65,"i":32},{"t":78.75,"i":29},{"t":78.85,"i":27},{"t":78.95,"i":31},
{"t":79.05,"i":30},{"t":79.15,"i":26},{"t":79.25,"i":31},{"t":79.35,"i":27},{"t":79.45,"i":29},{"t":79.55,"i":24},{"t":79.65,"i":28},{"t":79.75,"i":30},{"t":79.85,"i":25},{"t":79.95,"i":28}
],
"fit":[
{"t":10,"i":60},{"t":10.5,"i":60.5},{"t":11,"i":61},{"t":11.5,"i":62},{"t":12,"i":62.5},{"t":12.5,"i":63},{"t":13,"i":63},{"t":14,"i":62},{"t":15,"i":61},{"t":16,"i":60},{"t":17,"i":59},{"t":18,"i":58.5},{"t":18.6,"i":58.3},{"t":18.8,"i":59.5},{"t":18.9,"i":63},{"t":18.95,"i":72},{"t":19.0,"i":93},{"t":19.05,"i":72},{"t":19.1,"i":63},{"t":19.2,"i":59},{"t":19.4,"i":57.5},
{"t":20,"i":56},{"t":21,"i":55},{"t":22,"i":54.5},{"t":23,"i":54},{"t":24,"i":53},{"t":25,"i":52},{"t":26,"i":51},{"t":27,"i":49.5},{"t":28,"i":48},{"t":29,"i":46.5},{"t":30,"i":45},{"t":30.5,"i":44},{"t":30.9,"i":43.5},{"t":31.1,"i":47},{"t":31.2,"i":56},{"t":31.25,"i":80},{"t":31.3,"i":114},{"t":31.35,"i":80},{"t":31.4,"i":54},{"t":31.5,"i":45},{"t":31.7,"i":41.5},
{"t":32,"i":40},{"t":33,"i":39},{"t":34,"i":38.5},{"t":35,"i":38},{"t":35.8,"i":38.5},{"t":36.3,"i":40},{"t":36.55,"i":44},{"t":36.7,"i":55},{"t":36.78,"i":100},{"t":36.85,"i":260},{"t":36.92,"i":100},{"t":37.0,"i":55},{"t":37.15,"i":46},{"t":37.4,"i":42},{"t":37.8,"i":40.5},{"t":38.3,"i":41},{"t":38.45,"i":46},{"t":38.55,"i":60},{"t":38.65,"i":46},{"t":38.8,"i":41},{"t":39.2,"i":39},
{"t":40,"i":38},{"t":41,"i":37.5},{"t":42,"i":37},{"t":43,"i":36.5},{"t":44,"i":36},{"t":44.5,"i":37},{"t":44.7,"i":45},{"t":44.8,"i":75},{"t":44.9,"i":45},{"t":45.1,"i":36},{"t":45.4,"i":33},{"t":46,"i":32},{"t":47,"i":31.5},{"t":48,"i":31.5},{"t":49,"i":31.5},{"t":50,"i":32},{"t":51,"i":32},{"t":52,"i":32.5},{"t":53,"i":33},{"t":54,"i":33.5},{"t":55,"i":34},{"t":55.4,"i":36},{"t":55.6,"i":48},{"t":55.8,"i":37},{"t":56.2,"i":35},
{"t":57,"i":34},{"t":58,"i":34},{"t":58.9,"i":35.5},{"t":59.1,"i":42},{"t":59.25,"i":85},{"t":59.4,"i":42},{"t":59.6,"i":36},{"t":60,"i":34.5},{"t":61,"i":34},{"t":62,"i":34},{"t":63,"i":34},{"t":64,"i":34},{"t":64.8,"i":35.5},{"t":65.0,"i":42},{"t":65.15,"i":86},{"t":65.3,"i":42},{"t":65.5,"i":36},{"t":66,"i":33},{"t":67,"i":34},{"t":68,"i":35},{"t":69,"i":33},
{"t":70,"i":31},{"t":71,"i":29.5},{"t":72,"i":28},{"t":73,"i":25.5},{"t":74,"i":25},{"t":74.5,"i":26},{"t":75,"i":26},{"t":76,"i":29},{"t":76.7,"i":31},{"t":77.0,"i":36},{"t":77.1,"i":38},{"t":77.2,"i":35},{"t":77.5,"i":31},{"t":77.9,"i":32},{"t":78.2,"i":34},{"t":78.5,"i":31},{"t":79,"i":29},{"t":80,"i":27}
],
"peaks":[
{"t":19.1,"i":154,"s":"(111)"},{"t":31.0,"i":153,"s":"(220)"},{"t":36.86,"i":303,"s":"(311)"},{"t":39.06,"i":118,"s":"(222)"},{"t":44.97,"i":120,"s":"(400)"},{"t":55.63,"i":118,"s":"(422)"},{"t":59.4,"i":154,"s":"(511)"},{"t":65.0,"i":154,"s":"(440)"}
],
"legpts":[{"t":52.2,"i":299},{"t":54.83,"i":299},{"t":57.37,"i":299}],
"legline":[{"t":51.65,"t2":56.72,"i":273}],
"legbig":[{"t":60.94,"i":298,"s":"Co"},{"t":65.73,"i":298,"s":"O"},{"t":61.41,"i":272,"s":"Rietveld fit"}],
"legsub":[{"t":64.79,"i":286,"s":"3"},{"t":67.85,"i":286,"s":"4"}]
},
"encoding":{
"x":{"field":"t","type":"quantitative","scale":{"domain":[9.72,80.14],"nice":false,"zero":false},
"axis":{"title":"2Theta (deg)","values":[10,20,30,40,50,60,70,80],"labelExpr":"datum.value % 20 == 0 ? datum.label : ''","grid":false,"tickSize":-8,"tickColor":"#555","tickWidth":1.5,"domainColor":"#555","domainWidth":1.5,"labelFont":"DejaVu Sans","labelFontSize":13,"labelColor":"#222","labelPadding":19,"titleFont":"DejaVu Sans","titleFontSize":15,"titleFontWeight":"normal","titleColor":"#222","titlePadding":3}},
"y":{"field":"i","type":"quantitative","scale":{"domain":[0,330],"nice":false,"zero":false},
"axis":{"title":"Intensity (arb.u.)","labels":false,"ticks":false,"domain":false,"grid":false,"titleFont":"Liberation Sans","titleFontSize":17,"titleFontWeight":"normal","titleColor":"#222","titlePadding":6}}
},
"layer":[
{"data":{"name":"obs"},"mark":{"type":"square","color":"black","size":11,"opacity":1}},
{"data":{"name":"fit"},"mark":{"type":"line","color":"#3548b2","strokeWidth":2}},
{"data":{"name":"peaks"},"mark":{"type":"text","angle":270,"align":"center","baseline":"middle","font":"Liberation Sans","fontSize":16,"color":"#222"},"encoding":{"text":{"field":"s"}}},
{"data":{"name":"legpts"},"mark":{"type":"square","color":"black","size":10,"opacity":1}},
{"data":{"name":"legline"},"mark":{"type":"rule","color":"#3548b2","strokeWidth":2},"encoding":{"x2":{"field":"t2"}}},
{"data":{"name":"legbig"},"mark":{"type":"text","align":"left","baseline":"alphabetic","font":"DejaVu Sans","fontSize":17,"color":"#222"},"encoding":{"text":{"field":"s"}}},
{"data":{"name":"legsub"},"mark":{"type":"text","align":"left","baseline":"alphabetic","font":"DejaVu Sans","fontSize":12,"color":"#222"},"encoding":{"text":{"field":"s"}}}
]
}
